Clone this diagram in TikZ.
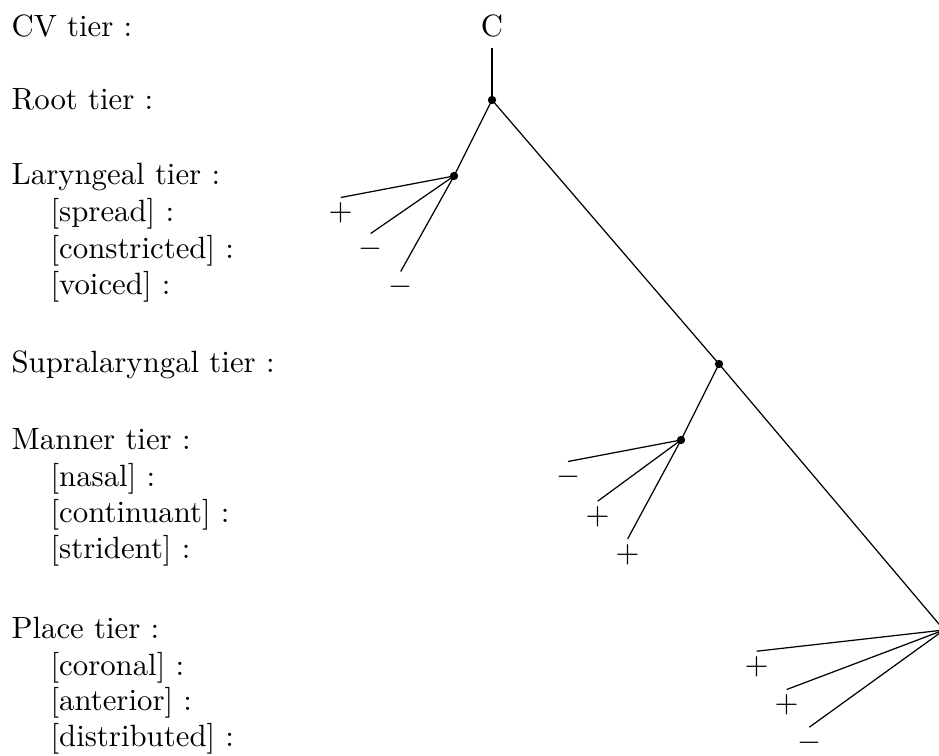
\documentclass[tikz,border=0pt]{standalone}
\begin{document}
\begin{tikzpicture}[x=0.3247pt,y=-0.3247pt,
  lab/.style={anchor=base west,inner sep=0pt},
  dotnode/.style={circle,fill=black,inner sep=0pt,minimum size=2.7pt},
  val/.style={inner sep=1.5pt},
  conn/.style={line width=0.4pt}]
\useasboundingbox (0,0) rectangle (939,756);
% tier labels
\node[lab] (lcv)  at (11,36.5)  {CV tier :};
\node[lab] (lroot) at (11,110)  {Root tier :};
\node[lab] (llar) at (11,184)   {Laryngeal tier :};
\node[lab] (lsp)  at (50,221.5) {[spread] :};
\node[lab] (lcon) at (50,258)   {[constricted] :};
\node[lab] (lvoi) at (50,294)   {[voiced] :};
\node[lab] (lsup) at (11,372.5) {Supralaryngal tier :};
\node[lab] (lman) at (11,449)   {Manner tier :};
\node[lab] (lnas) at (50,486)   {[nasal] :};
\node[lab] (lcnt) at (50,522.5) {[continuant] :};
\node[lab] (lstr) at (50,558.5) {[strident] :};
\node[lab] (lpla) at (11,638.5) {Place tier :};
\node[lab] (lcor) at (50,675)   {[coronal] :};
\node[lab] (lant) at (50,710.5) {[anterior] :};
\node[lab] (ldis) at (50,746.5) {[distributed] :};
% tree nodes
\node[anchor=base] (C) at (492,36.5) {C};
\node[dotnode] (root) at (492,100) {};
\node[dotnode] (lar)  at (454,176) {};
\node[dotnode] (sup)  at (719,364) {};
\node[dotnode] (man)  at (681,440) {};
\node[dotnode] (pla)  at (944,630) {};
% values
\node[val] (vsp)  at (340.7,213)   {$+$};
\node[val] (vcon) at (370.7,249)   {$-$};
\node[val] (vvoi) at (400.7,287)   {$-$};
\node[val] (vnas) at (568,477)     {$-$};
\node[val] (vcnt) at (597.7,516.7) {$+$};
\node[val] (vstr) at (627.7,554.3) {$+$};
\node[val] (vcor) at (756.7,666.7) {$+$};
\node[val] (vant) at (786.7,705)   {$+$};
\node[val] (vdis) at (809.3,742.7) {$-$};
% connectors
\draw[conn] (C.south) -- (root.center);
\draw[conn] (root.center) -- (lar.center);
\draw[conn] (root.center) -- (sup.center);
\draw[conn] (sup.center) -- (man.center);
\draw[conn] (sup.center) -- (pla.center);
\draw[conn] (lar.center) -- (vsp.north);
\draw[conn] (lar.center) -- (vcon.north);
\draw[conn] (lar.center) -- (vvoi.north);
\draw[conn] (man.center) -- (vnas.north);
\draw[conn] (man.center) -- (vcnt.north);
\draw[conn] (man.center) -- (vstr.north);
\draw[conn] (pla.center) -- (vcor.north);
\draw[conn] (pla.center) -- (vant.north);
\draw[conn] (pla.center) -- (vdis.north);
\end{tikzpicture}
\end{document}
